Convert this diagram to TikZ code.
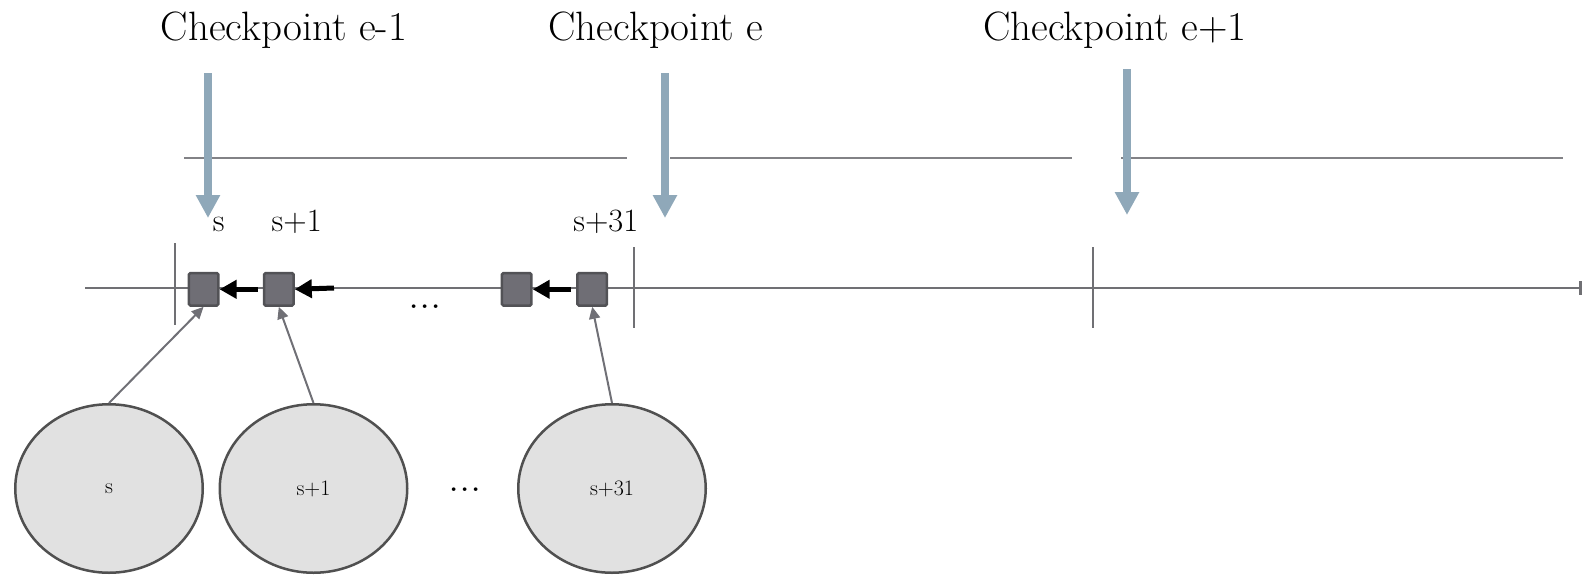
\documentclass[tikz,border=0pt]{standalone}
\usepackage{fontspec}
\usetikzlibrary{arrows.meta,shapes.geometric}
\definecolor{cpblue}{RGB}{143,168,185}
\definecolor{sqfill}{RGB}{111,110,117}
\definecolor{sqborder}{RGB}{82,82,86}
\definecolor{elfill}{RGB}{225,225,225}
\definecolor{elborder}{RGB}{80,80,80}
\definecolor{axgray}{RGB}{112,112,116}
\definecolor{lngray}{RGB}{130,130,134}
\definecolor{fdgray}{RGB}{112,112,118}
\tikzset{
  cplabel/.style={font=\fontsize{41}{45}\selectfont, anchor=base, inner sep=0pt},
  blocklabel/.style={font=\fontsize{32.5}{36}\selectfont, anchor=base, inner sep=0pt},
  dotlabel/.style={font=\fontsize{45}{50}\selectfont, anchor=base, inner sep=0pt},
  block/.style={draw=sqborder, fill=sqfill, line width=2.5pt, minimum width=29.5pt,
    minimum height=32.5pt, inner sep=0pt, rounded corners=1.5pt},
  slot/.style={ellipse, draw=elborder, fill=elfill, line width=2.5pt,
    minimum width=187.5pt, minimum height=168.5pt, inner sep=0pt,
    font=\fontsize{22}{24}\selectfont},
  cparrow/.style={draw=cpblue, line width=8pt, -{Triangle[width=23pt,length=23pt]}},
  link/.style={draw=black, line width=5pt, -{Triangle[width=18pt,length=17pt]}},
  feed/.style={draw=fdgray, line width=2pt, -{Triangle[width=11pt,length=12pt]}},
  rulerline/.style={draw=lngray, line width=2pt},
  axisline/.style={draw=axgray, line width=2.5pt},
  tickline/.style={draw=axgray, line width=2pt},
}
\begin{document}
\begin{tikzpicture}[x=1pt,y=-1pt]
\useasboundingbox (0,0) rectangle (1583,576);

% checkpoint labels
\node[cplabel] (cpl1) at (284,40.5) {Checkpoint e-1};
\node[cplabel] (cpl2) at (656,40.5) {Checkpoint e};
\node[cplabel] (cpl3) at (1115,40.5) {Checkpoint e+1};

% epoch rulers
\coordinate (r1a) at (184,157.5); \coordinate (r1b) at (627,157.5);
\coordinate (r2a) at (670,157.5); \coordinate (r2b) at (1072,157.5);
\coordinate (r3a) at (1121,157.5); \coordinate (r3b) at (1563,157.5);
\draw[rulerline] (r1a) -- (r1b);
\draw[rulerline] (r2a) -- (r2b);
\draw[rulerline] (r3a) -- (r3b);

% checkpoint arrows
\coordinate (cp1s) at (208,73);   \coordinate (cp1e) at (208,218);
\coordinate (cp2s) at (665,73);   \coordinate (cp2e) at (665,218);
\coordinate (cp3s) at (1127,69);  \coordinate (cp3e) at (1127,215);
\draw[cparrow] (cp1s) -- (cp1e);
\draw[cparrow] (cp2s) -- (cp2e);
\draw[cparrow] (cp3s) -- (cp3e);

% timeline
\coordinate (t0) at (85,288);
\coordinate (t1) at (1581.5,288);
\draw[axisline, -{Bar[width=14pt]}] (t0) -- (t1);
\draw[tickline] (175,243) -- (175,325);
\draw[tickline] (634,247) -- (634,328);
\draw[tickline] (1093,247) -- (1093,328);

% blocks
\node[block] (q1) at (203.6,289.3) {};
\node[block] (q2) at (278.8,289.3) {};
\node[block] (q3) at (516.7,289.3) {};
\node[block] (q4) at (592.2,289.3) {};

\node[blocklabel] (l1) at (218.8,231) {s};
\node[blocklabel] (l2) at (296.7,231) {s+1};
\node[blocklabel] (l3) at (605.8,231) {s+31};

\node[dotlabel] (d1) at (425.3,308.4) {...};

% back links
\coordinate (lk2) at (334,288);
\draw[link, shorten <=5pt] (q2.west) -- (q1.east);
\draw[link] (lk2) -- (q2.east);
\draw[link, shorten <=5pt] (q4.west) -- (q3.east);

% slots
\node[slot] (e1) at (109,488.5) {s};
\node[slot] (e2) at (313.5,488.5) {s+1};
\node[slot] (e3) at (612,488.5) {s+31};
\node[dotlabel] (d2) at (465,491.7) {...};

\draw[feed] (e1.north) -- (q1.south);
\draw[feed] (e2.north) -- (q2.south);
\draw[feed] (e3.north) -- (q4.south);
\end{tikzpicture}
\end{document}
